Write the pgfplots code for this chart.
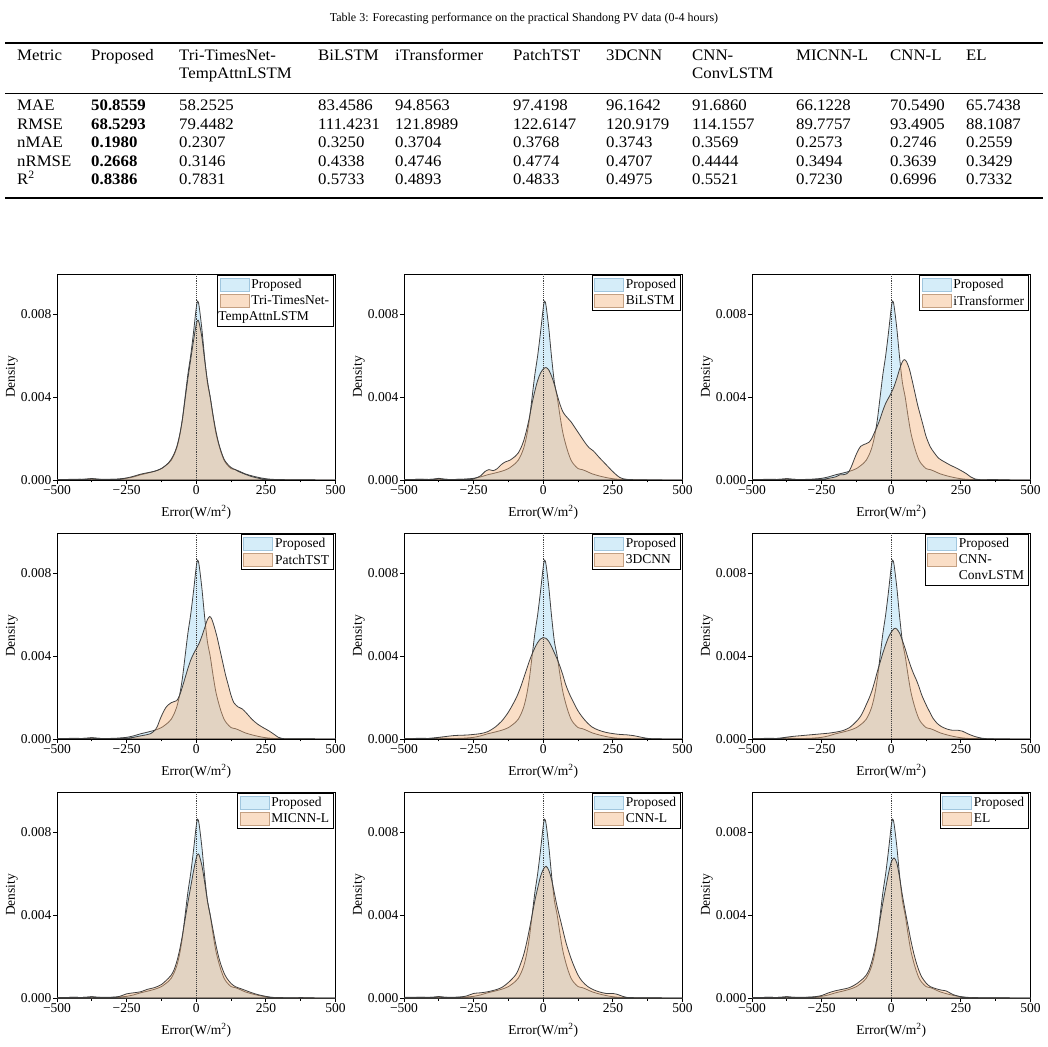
\documentclass[border=0pt]{standalone}
\usepackage{fontspec}
\setmainfont{Liberation Serif}
\newfontfamily\tablefont[FakeStretch=1.05]{Liberation Serif}
\usepackage{pgfplots}
\usepackage{pgfplotstable}
\pgfplotsset{compat=1.18}

\definecolor{propfill}{RGB}{213,237,249}
\definecolor{cmpfill}{RGB}{244,176,120}
\definecolor{curveline}{RGB}{64,64,64}
\definecolor{propedge}{RGB}{160,198,222}
\definecolor{cmpedge}{RGB}{196,160,130}
\definecolor{cmppatch}{RGB}{250,222,198}

% Error densities, d in units of 1e-3 per W/m^2
\pgfplotstableread[row sep=\\]{
x d\\
-500 0.02\\ -450 0.03\\ -400 0.03\\ -375 0.06\\ -350 0.03\\ -300 0.03\\ -275 0.05\\ -250 0.08\\
-225 0.15\\ -200 0.25\\ -175 0.33\\ -150 0.42\\ -125 0.55\\ -100 0.80\\ -90 0.95\\ -80 1.20\\
-70 1.55\\ -60 2.10\\ -50 2.90\\ -40 4.00\\ -30 5.10\\ -20 6.00\\ -10 7.10\\ 0 8.30\\ 5 8.62\\
10 8.40\\ 20 7.30\\ 30 5.90\\ 40 4.70\\ 50 4.00\\ 60 3.10\\ 70 2.30\\ 80 1.75\\ 90 1.30\\
100 0.95\\ 110 0.75\\ 125 0.55\\ 140 0.50\\ 150 0.45\\ 175 0.30\\ 200 0.20\\ 225 0.12\\
250 0.06\\ 275 0.03\\ 300 0.02\\ 350 0.01\\ 400 0.01\\ 450 0\\ 500 0\\
}\tblP

\pgfplotstableread[row sep=\\]{
x d\\
-500 0.02\\ -450 0.02\\ -400 0.04\\ -375 0.07\\ -350 0.04\\ -300 0.03\\ -275 0.05\\ -250 0.10\\
-225 0.18\\ -200 0.28\\ -175 0.35\\ -150 0.42\\ -125 0.55\\ -100 0.82\\ -90 1.00\\ -80 1.25\\
-70 1.60\\ -60 2.15\\ -50 2.90\\ -40 3.90\\ -30 4.90\\ -20 5.80\\ -10 6.70\\ 0 7.50\\ 5 7.70\\
10 7.60\\ 20 6.90\\ 30 5.80\\ 40 4.80\\ 50 4.00\\ 60 3.15\\ 70 2.40\\ 80 1.80\\ 90 1.35\\
100 1.00\\ 110 0.80\\ 125 0.60\\ 140 0.50\\ 150 0.42\\ 175 0.28\\ 200 0.16\\ 225 0.08\\
250 0.03\\ 275 0.02\\ 300 0.02\\ 350 0.01\\ 400 0.01\\ 450 0\\ 500 0\\
}\tblT

\pgfplotstableread[row sep=\\]{
x d\\
-500 0.02\\ -450 0.03\\ -400 0.03\\ -375 0.08\\ -350 0.03\\ -300 0.03\\ -275 0.03\\ -250 0.06\\
-225 0.20\\ -210 0.40\\ -195 0.50\\ -180 0.45\\ -165 0.55\\ -150 0.75\\ -135 0.88\\ -120 0.95\\
-100 1.15\\ -90 1.30\\ -80 1.55\\ -70 1.90\\ -60 2.40\\ -50 3.00\\ -40 3.70\\ -30 4.30\\
-20 4.80\\ -10 5.15\\ 0 5.35\\ 10 5.42\\ 20 5.30\\ 30 5.00\\ 40 4.60\\ 50 4.10\\ 60 3.65\\
70 3.30\\ 80 3.10\\ 90 2.95\\ 100 2.80\\ 115 2.50\\ 130 2.20\\ 150 1.80\\ 165 1.55\\ 180 1.40\\
200 1.10\\ 225 0.75\\ 250 0.40\\ 275 0.12\\ 300 0.03\\ 350 0.01\\ 400 0\\ 450 0\\ 500 0\\
}\tblB

\pgfplotstableread[row sep=\\]{
x d\\
-500 0.02\\ -450 0.02\\ -400 0.03\\ -375 0.06\\ -350 0.03\\ -300 0.02\\ -250 0.03\\ -225 0.08\\
-200 0.15\\ -185 0.25\\ -175 0.25\\ -160 0.30\\ -150 0.45\\ -140 0.75\\ -130 1.10\\ -120 1.40\\
-110 1.62\\ -100 1.70\\ -90 1.75\\ -80 1.82\\ -70 2.00\\ -60 2.30\\ -50 2.60\\ -40 2.95\\
-30 3.35\\ -20 3.70\\ -10 3.95\\ 0 4.20\\ 10 4.50\\ 20 4.90\\ 30 5.35\\ 40 5.70\\ 47 5.80\\
55 5.70\\ 65 5.35\\ 75 4.80\\ 85 4.20\\ 95 3.60\\ 105 3.10\\ 115 2.60\\ 125 2.10\\ 140 1.60\\
155 1.30\\ 170 1.05\\ 190 0.88\\ 210 0.73\\ 230 0.60\\ 250 0.46\\ 270 0.30\\ 285 0.15\\
300 0.05\\ 325 0.01\\ 350 0.02\\ 375 0.02\\ 400 0.01\\ 450 0\\ 500 0\\
}\tblI

\pgfplotstableread[row sep=\\]{
x d\\
-500 0.02\\ -450 0.02\\ -400 0.03\\ -375 0.06\\ -350 0.03\\ -300 0.02\\ -250 0.04\\ -225 0.08\\
-200 0.15\\ -180 0.20\\ -165 0.25\\ -150 0.40\\ -140 0.60\\ -130 0.95\\ -120 1.25\\ -110 1.50\\
-100 1.65\\ -90 1.75\\ -80 1.80\\ -70 1.85\\ -60 2.10\\ -50 2.50\\ -40 2.95\\ -30 3.40\\
-20 3.80\\ -10 4.10\\ 0 4.35\\ 10 4.60\\ 20 4.95\\ 30 5.35\\ 40 5.75\\ 48 5.90\\ 55 5.80\\
65 5.40\\ 75 4.90\\ 85 4.30\\ 95 3.70\\ 105 3.10\\ 115 2.60\\ 125 2.10\\ 135 1.75\\ 150 1.55\\
165 1.45\\ 180 1.25\\ 200 0.95\\ 220 0.72\\ 240 0.55\\ 260 0.40\\ 280 0.22\\ 295 0.08\\
310 0.02\\ 350 0.01\\ 400 0.01\\ 450 0\\ 500 0\\
}\tblPT

\pgfplotstableread[row sep=\\]{
x d\\
-500 0.01\\ -450 0.02\\ -425 0.02\\ -400 0.04\\ -375 0.08\\ -350 0.12\\ -325 0.16\\ -300 0.18\\
-275 0.19\\ -250 0.22\\ -225 0.26\\ -200 0.35\\ -175 0.55\\ -150 0.85\\ -125 1.30\\ -100 1.90\\
-90 2.20\\ -80 2.55\\ -70 2.95\\ -60 3.35\\ -50 3.75\\ -40 4.10\\ -30 4.40\\ -20 4.65\\
-10 4.82\\ 0 4.89\\ 10 4.85\\ 20 4.70\\ 30 4.45\\ 40 4.15\\ 50 3.85\\ 60 3.50\\ 70 3.10\\
80 2.65\\ 90 2.30\\ 100 2.00\\ 125 1.35\\ 150 0.90\\ 175 0.58\\ 200 0.42\\ 225 0.32\\
250 0.26\\ 275 0.22\\ 300 0.20\\ 325 0.16\\ 350 0.09\\ 375 0.03\\ 400 0.01\\ 450 0\\ 500 0\\
}\tblD

\pgfplotstableread[row sep=\\]{
x d\\
-500 0.01\\ -450 0.02\\ -425 0.02\\ -400 0.04\\ -375 0.09\\ -350 0.13\\ -325 0.16\\ -300 0.19\\
-275 0.22\\ -250 0.25\\ -225 0.28\\ -200 0.33\\ -175 0.40\\ -150 0.55\\ -125 0.85\\ -110 1.10\\
-100 1.35\\ -90 1.65\\ -80 1.95\\ -70 2.30\\ -60 2.75\\ -50 3.25\\ -40 3.70\\ -30 4.15\\
-20 4.55\\ -10 4.90\\ 0 5.15\\ 10 5.32\\ 15 5.34\\ 20 5.30\\ 30 5.10\\ 40 4.75\\ 50 4.35\\
60 3.90\\ 70 3.50\\ 80 3.15\\ 90 2.85\\ 100 2.50\\ 110 2.10\\ 125 1.65\\ 140 1.25\\ 150 1.00\\
165 0.75\\ 180 0.60\\ 200 0.48\\ 220 0.42\\ 240 0.42\\ 255 0.38\\ 275 0.25\\ 300 0.12\\
325 0.04\\ 350 0.01\\ 400 0\\ 450 0\\ 500 0\\
}\tblC

\pgfplotstableread[row sep=\\]{
x d\\
-500 0.02\\ -450 0.03\\ -400 0.03\\ -375 0.06\\ -350 0.03\\ -300 0.04\\ -275 0.08\\ -250 0.20\\
-225 0.25\\ -200 0.30\\ -175 0.42\\ -150 0.50\\ -125 0.65\\ -100 0.95\\ -90 1.10\\ -80 1.35\\
-70 1.75\\ -60 2.30\\ -50 3.00\\ -40 3.80\\ -30 4.60\\ -20 5.35\\ -10 6.10\\ 0 6.75\\ 5 6.92\\
10 6.90\\ 20 6.40\\ 30 5.60\\ 40 4.70\\ 50 4.00\\ 60 3.30\\ 70 2.60\\ 80 2.00\\ 90 1.55\\
100 1.20\\ 110 0.95\\ 125 0.70\\ 140 0.55\\ 160 0.45\\ 180 0.35\\ 200 0.25\\ 225 0.15\\
250 0.08\\ 275 0.02\\ 300 0.01\\ 350 0.01\\ 375 0.02\\ 400 0.01\\ 450 0\\ 500 0\\
}\tblM

\pgfplotstableread[row sep=\\]{
x d\\
-500 0.03\\ -450 0.04\\ -400 0.03\\ -375 0.07\\ -350 0.03\\ -300 0.05\\ -275 0.10\\ -250 0.22\\
-225 0.25\\ -200 0.30\\ -175 0.38\\ -150 0.50\\ -125 0.75\\ -100 1.10\\ -90 1.35\\ -80 1.70\\
-70 2.10\\ -60 2.65\\ -50 3.30\\ -40 4.00\\ -30 4.70\\ -20 5.30\\ -10 5.85\\ 0 6.20\\ 10 6.35\\
20 6.15\\ 30 5.70\\ 40 5.05\\ 50 4.40\\ 60 3.85\\ 70 3.30\\ 80 2.75\\ 90 2.30\\ 100 1.90\\
110 1.55\\ 125 1.10\\ 140 0.80\\ 160 0.55\\ 180 0.40\\ 200 0.30\\ 225 0.22\\ 250 0.22\\
265 0.18\\ 285 0.08\\ 300 0.03\\ 350 0.01\\ 400 0.01\\ 450 0\\ 500 0\\
}\tblCL

\pgfplotstableread[row sep=\\]{
x d\\
-500 0.02\\ -450 0.03\\ -400 0.03\\ -375 0.06\\ -350 0.03\\ -300 0.04\\ -275 0.06\\ -250 0.12\\
-225 0.25\\ -200 0.35\\ -175 0.42\\ -150 0.50\\ -125 0.68\\ -100 0.95\\ -90 1.10\\ -80 1.35\\
-70 1.75\\ -60 2.30\\ -50 3.00\\ -40 3.80\\ -30 4.60\\ -20 5.30\\ -10 6.00\\ 0 6.55\\ 10 6.75\\
20 6.50\\ 30 5.80\\ 40 4.95\\ 50 4.20\\ 60 3.50\\ 70 2.80\\ 80 2.20\\ 90 1.70\\ 100 1.30\\
110 1.00\\ 125 0.72\\ 140 0.55\\ 160 0.45\\ 180 0.38\\ 195 0.35\\ 210 0.25\\ 225 0.15\\
250 0.06\\ 275 0.02\\ 300 0.01\\ 350 0.01\\ 400 0.01\\ 450 0\\ 500 0\\
}\tblE

\newcommand\panelfont{\fontsize{13.5}{16.7}\selectfont}

\pgfplotsset{
  kde panel/.style={
    scale only axis, width=278.5pt, height=206pt,
    xmin=-500, xmax=500, ymin=0, ymax=9.93,
    xtick={-500,-250,0,250,500},
    xticklabels={−500,−250,0,250,500},
    minor xtick={-375,-125,125,375},
    ytick={0,4,8}, yticklabels={0.000,0.004,0.008},
    tick align=outside, tick pos=left,
    major tick length=4pt, minor tick length=2.5pt,
    every tick/.style={black, line width=0.8pt},
    axis line style={black, line width=0.9pt},
    tick label style={font=\panelfont, inner sep=1.5pt},
    label style={font=\panelfont},
    xlabel={Error(W/m\textsuperscript{2})},
    ylabel={Density},
    xlabel style={at={(axis description cs:0.5,-0.155)}, anchor=center},
    ylabel style={at={(axis description cs:-0.162,0.5)}, anchor=center},
    legend cell align=left,
    legend style={at={(0.993,0.995)}, anchor=north east, draw=black,
      line width=0.9pt, fill=white, font=\panelfont,
      inner xsep=2pt, inner ysep=2pt, row sep=1.5pt},
  },
  prop area/.style={forget plot, smooth, tension=0.5, fill=propfill,
    draw=curveline, line width=0.8pt},
  cmp area/.style={forget plot, smooth, tension=0.5, fill=cmpfill,
    fill opacity=0.42, draw=curveline, draw opacity=1, line width=0.8pt},
  zero line/.style={forget plot, densely dotted, curveline, line width=0.9pt},
  prop patch/.style={legend image code/.code={%
    \draw[fill=propfill, draw=propedge, line width=0.8pt] (0pt,-6.5pt) rectangle (29pt,6.5pt);}},
  cmp patch/.style={legend image code/.code={%
    \draw[fill=cmppatch, draw=cmpedge, line width=0.8pt] (0pt,-6.5pt) rectangle (29pt,6.5pt);}},
}

% one density panel: x, y of the lower left corner, comparison table,
% its name, and an optional second line of that name
\newcommand\kdepanel[5]{%
  \begin{axis}[kde panel, at={(#1pt,#2pt)}, anchor=south west]
    \addplot[prop area] table[x=x, y=d] {\tblP} \closedcycle;
    \addplot[cmp area] table[x=x, y=d] {#3} \closedcycle;
    \addplot[zero line] coordinates {(0,0) (0,9.93)};
    \addlegendimage{prop patch}\addlegendentry{Proposed}
    \addlegendimage{cmp patch}\addlegendentry{#4}
    \ifx\relax#5\relax\else
      \addlegendimage{empty legend}\addlegendentry{#5}
    \fi
  \end{axis}}

\tikzset{cell/.style={anchor=base west, inner sep=0pt,
  font=\tablefont\fontsize{16}{18.5}\selectfont}}

\begin{document}
\begin{tikzpicture}
\path[use as bounding box] (0pt,0pt) rectangle (1048pt,1046pt);

% caption
\node[anchor=base, inner sep=0pt, font=\fontsize{12}{14}\selectfont]
  at (524pt,1024pt) {Table 3: Forecasting performance on the practical Shandong PV data (0-4 hours)};

% rules
\draw[line width=1.3pt] (5pt,1003pt) -- (1043pt,1003pt);
\draw[line width=0.8pt] (5pt,953pt) -- (1043pt,953pt);
\draw[line width=1.3pt] (5pt,848pt) -- (1043pt,848pt);

% header
\foreach \cx/\txt in {17/Metric, 91/Proposed, 179/Tri-TimesNet-, 318/BiLSTM,
  395/iTransformer, 513/PatchTST, 606/3DCNN, 692/CNN-, 796/MICNN-L, 890/CNN-L, 966/EL}
  \node[cell] at (\cx pt,985.5pt) {\txt};
\node[cell] at (179pt,967pt) {TempAttnLSTM};
\node[cell] at (692pt,967pt) {ConvLSTM};

% body
\foreach \cx/\txt in {17/MAE, 91/\textbf{50.8559}, 179/58.2525, 318/83.4586, 395/94.8563,
  513/97.4198, 606/96.1642, 692/91.6860, 796/66.1228, 890/70.5490, 966/65.7438}
  \node[cell] at (\cx pt,935pt) {\txt};
\foreach \cx/\txt in {17/RMSE, 91/\textbf{68.5293}, 179/79.4482, 318/111.4231, 395/121.8989,
  513/122.6147, 606/120.9179, 692/114.1557, 796/89.7757, 890/93.4905, 966/88.1087}
  \node[cell] at (\cx pt,916.5pt) {\txt};
\foreach \cx/\txt in {17/nMAE, 91/\textbf{0.1980}, 179/0.2307, 318/0.3250, 395/0.3704,
  513/0.3768, 606/0.3743, 692/0.3569, 796/0.2573, 890/0.2746, 966/0.2559}
  \node[cell] at (\cx pt,898pt) {\txt};
\foreach \cx/\txt in {17/nRMSE, 91/\textbf{0.2668}, 179/0.3146, 318/0.4338, 395/0.4746,
  513/0.4774, 606/0.4707, 692/0.4444, 796/0.3494, 890/0.3639, 966/0.3429}
  \node[cell] at (\cx pt,879.5pt) {\txt};
\foreach \cx/\txt in {17/R\textsuperscript{2}, 91/\textbf{0.8386}, 179/0.7831, 318/0.5733, 395/0.4893,
  513/0.4833, 606/0.4975, 692/0.5521, 796/0.7230, 890/0.6996, 966/0.7332}
  \node[cell] at (\cx pt,861pt) {\txt};

% density panels
\kdepanel{57}{566}{\tblT}{Tri-TimesNet-}{\hspace*{-33pt}TempAttnLSTM}
\kdepanel{404}{566}{\tblB}{BiLSTM}{}
\kdepanel{752}{566}{\tblI}{iTransformer}{}
\kdepanel{57}{307}{\tblPT}{PatchTST}{}
\kdepanel{404}{307}{\tblD}{3DCNN}{}
\kdepanel{752}{307}{\tblC}{CNN-}{ConvLSTM}
\kdepanel{57}{48}{\tblM}{MICNN-L}{}
\kdepanel{404}{48}{\tblCL}{CNN-L}{}
\kdepanel{752}{48}{\tblE}{EL}{}
\end{tikzpicture}
\end{document}
